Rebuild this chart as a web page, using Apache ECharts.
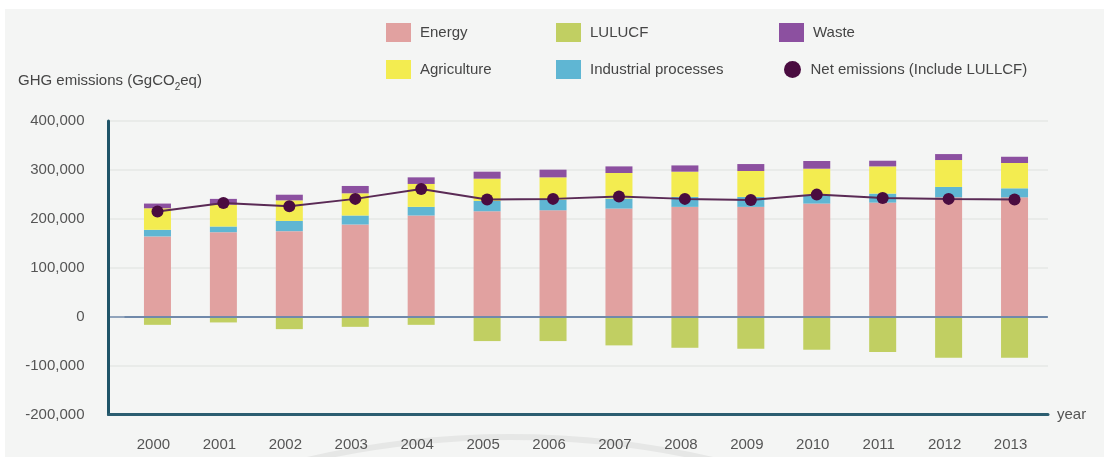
<!DOCTYPE html>
<html>
<head>
<meta charset="utf-8">
<script src="https://cdn.jsdelivr.net/npm/echarts@6/dist/echarts.min.js"></script>
<style>
  html, body { margin: 0; padding: 0; background: #fff; }
  #chart {
    width: 1104px; height: 457px;
    background: linear-gradient(#f4f5f4, #f4f5f4) 5px 9px / 1099px 448px no-repeat, #fff;
  }
</style>
</head>
<body>
<div id="chart"></div>
<script>
// GHG emissions by sector (GgCO2eq)
const years = ['2000', '2001', '2002', '2003', '2004', '2005', '2006', '2007', '2008', '2009', '2010', '2011', '2012', '2013']
const energy = [164000, 172700, 174800, 188400, 206800, 215500, 217500, 221000, 224500, 224500, 231200, 233200, 244000, 244000]
const industrial = [13600, 11600, 21000, 18400, 17700, 21200, 21800, 20400, 20300, 20300, 18300, 18400, 21200, 18400]
const agriculture = [44000, 44700, 42000, 45400, 46800, 45400, 45500, 52300, 51600, 53000, 53000, 55600, 55000, 51700]
const waste = [9600, 11800, 11500, 15000, 13500, 14300, 15700, 13500, 12800, 14200, 15700, 11600, 12200, 12800]
const lulucf = [-16700, -11800, -25500, -20800, -16700, -49900, -49900, -58700, -63600, -65600, -67600, -72300, -83900, -83900]
const netEmissions = [215000, 232600, 225700, 240800, 261000, 239300, 240800, 245500, 240800, 238700, 249500, 242800, 240800, 239300]

const yMin = -200000
const yMax = 400000
const yStep = 100000

const colors = {
  energy: '#e1a1a0',
  lulucf: '#c1cf62',
  waste: '#8c50a0',
  agriculture: '#f3ec50',
  industrial: '#5fb6d3',
  net: '#4a0c40',
}

const chart = echarts.init(document.getElementById('chart'))

const legendText = { fontSize: 15, color: '#454545', padding: [0, 0, 0, 4] }
function legendAt(name, left, top, icon) {
  return {
    data: [name],
    left: left,
    top: top,
    padding: 0,
    icon: icon || 'rect',
    itemWidth: icon === 'circle' ? 18 : 25,
    itemHeight: icon === 'circle' ? 17 : 19,
    textStyle: legendText,
    selectedMode: false,
  }
}

const barBase = {
  type: 'bar',
  stack: 'total',
  barWidth: 27,
  xAxisIndex: 0,
  yAxisIndex: 0,
}

chart.setOption({
  backgroundColor: 'transparent',
  animation: false,
  textStyle: { fontFamily: '"Liberation Sans", Arial, sans-serif' },
  title: {
    text: 'GHG emissions (GgCO{sub|2}eq)',
    left: 13,
    top: 65,
    textStyle: {
      fontSize: 15,
      fontWeight: 'normal',
      color: '#454545',
      rich: { sub: { fontSize: 10, color: '#454545', padding: [12, 0, 0, 0] } },
    },
  },
  legend: [
    legendAt('Energy', 386, 23),
    legendAt('LULUCF', 556, 23),
    legendAt('Waste', 779, 23),
    legendAt('Agriculture', 386, 60),
    legendAt('Industrial processes', 556, 60),
    legendAt('Net emissions (Include LULLCF)', 784, 61, 'circle'),
  ],
  grid: [
    // bars
    { left: 124.5, right: 56.5, top: 121, bottom: 42.5 },
    // axis frame
    { left: 108.5, right: 56, top: 121, bottom: 42.5 },
  ],
  xAxis: [
    {
      type: 'category',
      gridIndex: 0,
      data: years,
      axisLine: { show: false, onZero: false },
      axisTick: { show: false },
      axisLabel: { color: '#555', fontSize: 15, margin: 23, padding: [0, 8, 0, 0] },
    },
    {
      type: 'value',
      gridIndex: 1,
      min: 0,
      max: 1,
      name: 'year',
      nameLocation: 'end',
      nameGap: 9,
      nameTextStyle: { color: '#555', fontSize: 15, verticalAlign: 'middle' },
      axisLine: { show: true, onZero: false, lineStyle: { color: '#2b5d70', width: 3 } },
      axisTick: { show: false },
      axisLabel: { show: false },
      splitLine: { show: false },
    },
  ],
  yAxis: [
    {
      type: 'value',
      gridIndex: 0,
      min: yMin,
      max: yMax,
      interval: yStep,
      show: false,
    },
    {
      type: 'value',
      gridIndex: 1,
      min: yMin,
      max: yMax,
      interval: yStep,
      axisLine: { show: true, lineStyle: { color: '#1f5468', width: 3 } },
      axisTick: { show: false },
      axisLabel: {
        color: '#555',
        fontSize: 15,
        margin: 24,
        formatter: (v) => v.toLocaleString('en-US'),
      },
      splitLine: {
        lineStyle: {
          width: 1.6,
          color: ['#e6e7e6', '#e6e7e6', '#7089aa', '#e6e7e6', '#e6e7e6', '#e6e7e6', '#e6e7e6'],
        },
      },
    },
  ],
  graphic: [
    {
      type: 'circle',
      silent: true,
      z: -10,
      shape: { cx: 510, cy: 1337, r: 900 },
      style: { fill: 'none', stroke: '#e6e7e6', lineWidth: 6 },
    },
  ],
  series: [
    Object.assign({ name: 'Energy', data: energy, itemStyle: { color: colors.energy } }, barBase),
    Object.assign({ name: 'Industrial processes', data: industrial, itemStyle: { color: colors.industrial } }, barBase),
    Object.assign({ name: 'Agriculture', data: agriculture, itemStyle: { color: colors.agriculture } }, barBase),
    Object.assign({ name: 'Waste', data: waste, itemStyle: { color: colors.waste } }, barBase),
    Object.assign({ name: 'LULUCF', data: lulucf, itemStyle: { color: colors.lulucf } }, barBase),
    {
      name: 'Net emissions (Include LULLCF)',
      type: 'line',
      xAxisIndex: 0,
      yAxisIndex: 0,
      z: 10,
      data: netEmissions,
      symbol: 'circle',
      symbolSize: 12,
      itemStyle: { color: colors.net },
      lineStyle: { color: '#5a2a55', width: 2 },
      markLine: {
        silent: true,
        symbol: 'none',
        label: { show: false },
        lineStyle: { color: '#7089aa', width: 2, type: 'solid' },
        data: [{ yAxis: 0 }],
      },
    },
  ],
})
</script>
</body>
</html>
